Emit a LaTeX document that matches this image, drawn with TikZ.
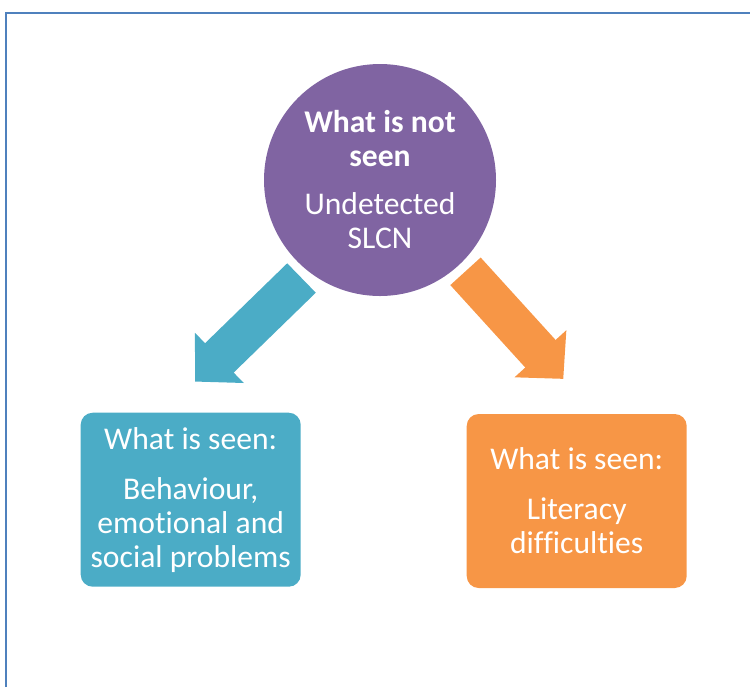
\documentclass[tikz,border=0pt]{standalone}
\usepackage{fontspec}
\setmainfont{Carlito}[Ligatures=NoCommon]
\usetikzlibrary{arrows.meta}
\definecolor{sdpurple}{HTML}{8064A2}
\definecolor{sdblue}{HTML}{4BACC6}
\definecolor{sdorange}{HTML}{F79646}
\definecolor{sdframe}{HTML}{4F81BD}
\begin{document}
\begin{tikzpicture}[x=0.5pt,y=-0.5pt,
        fat/.style={line width=20.5pt,-{Triangle[length=17pt,width=34pt]}},
        main node/.style={circle,fill=sdpurple,minimum size=116pt,inner sep=0pt,text=white,align=center,font=\fontsize{15.8pt}{17pt}\selectfont},
        box node/.style={rectangle,rounded corners=6pt,minimum width=110pt,minimum height=87pt,inner sep=0pt,text=white,align=center,font=\fontsize{15.8pt}{17pt}\selectfont}]

        \useasboundingbox (0,0) rectangle (750,687);
        \draw[sdframe,line width=1pt] (5.5,687) |- (750,12.7);

        \node[main node] (seen) at (380,180) {\textbf{What is not}\\\textbf{seen}\\[7pt]Undetected\\SLCN};
        \node[box node,fill=sdblue] (left) at (190.7,499.7) {What is seen:\\[8pt]Behaviour,\\emotional and\\social problems};
        \node[box node,fill=sdorange] (right) at (576.7,501) {What is seen:\\[8pt]Literacy\\difficulties};

        \draw[fat,sdblue] ([shift={(-78.5,98)}]seen.center) -- ([shift={(4.3,-30.7)}]left.north);
        \draw[fat,sdorange] ([shift={(85.5,91.3)}]seen.center) -- ([shift={(-13.4,-34.7)}]right.north);
      \end{tikzpicture}
\end{document}
